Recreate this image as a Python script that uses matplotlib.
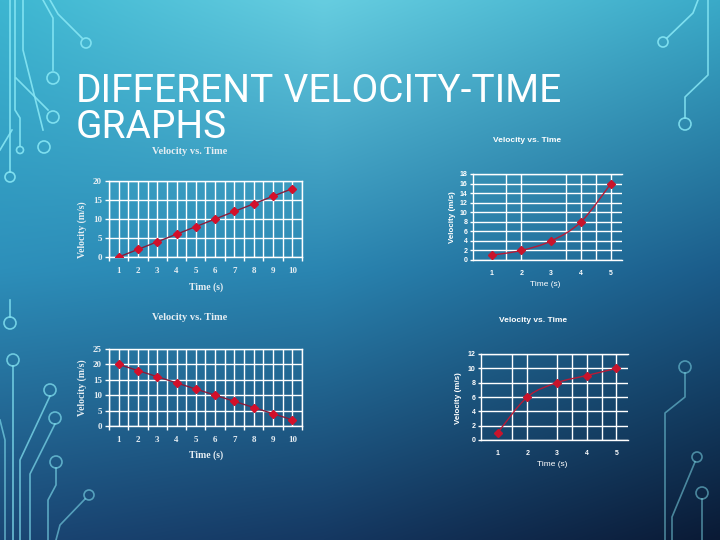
import numpy as np
import matplotlib
matplotlib.use('Agg')
import matplotlib.pyplot as plt
from matplotlib.colors import to_rgb
from matplotlib.path import Path
from matplotlib.patches import PathPatch, Circle

# chart data
t_ten = [1, 2, 3, 4, 5, 6, 7, 8, 9, 10]
v_up = [0, 2, 4, 6, 8, 10, 12, 14, 16, 18]
v_down = [20, 18, 16, 14, 12, 10, 8, 6, 4, 2]
t_five = [1, 2, 3, 4, 5]
v_accel = [1, 2, 4, 8, 16]
v_decel = [1, 6, 8, 9, 10]

title_words = ['DIFFERENT', ' VELOCITY-TIME', 'GRAPHS']
chart_title = 'Velocity vs. Time'
x_label = 'Time (s)'
y_label = 'Velocity (m/s)'

W, H = 720, 540
fig = plt.figure(figsize=(7.2, 5.4), dpi=100)

# background gradient
bg = fig.add_axes([0, 0, 1, 1])
bg_cols = [['#3db6d1', '#66cde0', '#3aaac8'],
           ['#2d8fba', '#2a85b1', '#1b5c8a'],
           ['#1a4674', '#153862', '#0a1a35']]
c = np.array([[to_rgb(x) for x in row] for row in bg_cols])
xs = np.linspace(0, 1, 360)
ys = np.linspace(0, 1, 270)
xnodes = [0, 0.45, 1]
ynodes = [0, 0.5, 1]
rows = np.stack([np.stack([np.interp(xs, xnodes, c[r, :, k]) for k in range(3)], -1) for r in range(3)])
img = np.empty((len(ys), len(xs), 3))
for k in range(3):
    for j in range(len(xs)):
        img[:, j, k] = np.interp(ys, ynodes, rows[:, j, k])
bg.imshow(img, extent=[0, W, H, 0], aspect='auto', interpolation='bilinear')
bg.set_xlim(0, W)
bg.set_ylim(H, 0)
bg.axis('off')

# circuit decorations (pixel coords)
wires = [
    ([(10, 0), (10, 172)], (10, 177), 5, 0.9),
    ([(15, 0), (15, 110), (20, 118), (20, 146)], (20, 150), 3.5, 0.9),
    ([(23, 0), (23, 50), (43, 130)], (44, 147), 6, 0.9),
    ([(43, 0), (53, 18), (53, 70)], (53, 78), 6, 0.9),
    ([(50, 0), (58, 14), (82, 38)], (86, 43), 5, 0.9),
    ([(16, 78), (48, 110)], (53, 117), 6, 0.9),
    ([(0, 150), (12, 130)], None, 0, 0.9),
    ([(10, 300), (10, 317)], (10, 323), 6, 0.8),
    ([(13, 366), (13, 540)], (13, 360), 6, 0.75),
    ([(50, 396), (20, 460), (20, 540)], (50, 390), 6, 0.7),
    ([(55, 424), (30, 474), (30, 540)], (55, 418), 6, 0.65),
    ([(56, 468), (56, 485), (48, 500), (48, 540)], (56, 462), 6, 0.6),
    ([(85, 499), (60, 525), (56, 540)], (89, 495), 5, 0.55),
    ([(0, 420), (5, 440), (5, 540)], None, 0, 0.6),
    ([(698, 0), (693, 13), (667, 38)], (663, 42), 5, 0.9),
    ([(708, 0), (708, 75), (685, 97), (685, 118)], (685, 124), 6, 0.85),
    ([(685, 373), (685, 397), (665, 413), (665, 540)], (685, 367), 6, 0.5),
    ([(695, 462), (672, 517), (672, 540)], (697, 457), 5, 0.5),
    ([(702, 499), (702, 540)], (702, 493), 6, 0.5),
]
for pts, ctr, r, a in wires:
    px = [p[0] for p in pts]
    py = [p[1] for p in pts]
    bg.plot(px, py, color='#86e6f4', lw=1.2, alpha=a)
    if ctr is not None:
        bg.add_patch(Circle(ctr, r, fill=False, ec='#86e6f4', lw=1.2, alpha=a))

# slide title: first word + last line as one block, rest of line 1 attached to its right
t_main = fig.text(76 / W, 1 - 146 / H, title_words[0] + '\n' + title_words[2], fontsize=28,
                  color='white', family='Roboto', va='bottom', ha='left', linespacing=0.95)
bg.annotate(title_words[1], xy=(1, 1), xycoords=t_main, fontsize=28, color='white',
            family='Roboto', va='top', ha='left')


def px_text(x, y, s, **kw):
    fig.text(x / W, 1 - y / H, s, ha='center', va='center', **kw)


def smooth_path(xv, yv):
    p = np.column_stack([xv, yv]).astype(float)
    ext = np.vstack([p[0], p, p[-1]])
    verts = [tuple(p[0])]
    codes = [Path.MOVETO]
    for i in range(len(p) - 1):
        p0, p1, p2, p3 = ext[i], ext[i + 1], ext[i + 2], ext[i + 3]
        c1 = p1 + (p2 - p0) / 6
        c2 = p2 - (p3 - p1) / 6
        verts += [tuple(c1), tuple(c2), tuple(p2)]
        codes += [Path.CURVE4] * 3
    return Path(verts, codes)


def style_axes(ax, family, fs, tcol, tick_len):
    ax.set_facecolor('none')
    for s in ax.spines.values():
        s.set_color('white')
        s.set_linewidth(1)
    ax.tick_params(colors='white', labelcolor=tcol, labelsize=fs, length=tick_len,
                   width=1, direction='out')
    ax.tick_params(axis='x', which='minor', length=tick_len, color='white', width=1)
    for lab in ax.get_xticklabels() + ax.get_yticklabels():
        lab.set_family(family)
        lab.set_fontweight('bold')


serif = 'Liberation Serif'
sans = 'Liberation Sans'

# left charts (linear)
left_specs = [([109, 257, 193, 76], v_up, 20, 152, 287, 230),
              ([109, 426, 193, 77], v_down, 25, 318, 455, 388)]
for box, vals, ymax, ty, xly, yly in left_specs:
    x0, yb, w, h = box
    ax = fig.add_axes([x0 / W, (H - yb) / H, w / W, h / H])
    ax.set_xlim(0.5, 10.5)
    ax.set_ylim(0, ymax)
    ax.set_xticks(t_ten)
    ax.set_xticks(np.arange(0.5, 11, 1), minor=True)
    ax.set_yticks(np.arange(0, ymax + 1, 5))
    ax.grid(True, which='both', axis='x', color='white', lw=1)
    ax.grid(True, which='major', axis='y', color='white', lw=1)
    ax.plot(t_ten, vals, color='#8a1c3a', lw=1, marker='D', ms=3.6,
            mfc='#d3102a', mec='#d3102a', zorder=3)
    style_axes(ax, serif, 6.5, '#e6eef3', 3)
    ax.tick_params(axis='x', which='major', length=0, pad=7)
    ax.tick_params(axis='y', pad=2)
    px_text(190, ty, chart_title, fontsize=7.5, color='#e6eef3', family=serif, fontweight='bold')
    px_text(206, xly, x_label, fontsize=7, color='#e6eef3', family=serif, fontweight='bold')
    px_text(82, yly, y_label, fontsize=7, color='#e6eef3', family=serif, fontweight='bold',
            rotation=90)

# right charts (curved)
right_specs = [([473, 260, 149, 86], v_accel, 18, 0.38, 5.37, [1.5, 2, 3.5, 4, 4.5, 5],
                (527, 140), (545, 284), (452, 217)),
               ([481, 440, 147, 86], v_decel, 12, 0.44, 5.39, [1.5, 2, 3, 3.5, 4, 4.5, 5],
                (533, 320), (552, 464), (458, 398))]
for box, vals, ymax, xl, xr, vgrid, tpos, xlpos, ylpos in right_specs:
    x0, yb, w, h = box
    ax = fig.add_axes([x0 / W, (H - yb) / H, w / W, h / H])
    ax.set_xlim(xl, xr)
    ax.set_ylim(0, ymax)
    ax.set_xticks(t_five)
    ax.set_yticks(np.arange(0, ymax + 1, 2))
    ax.grid(True, axis='y', color='white', lw=1)
    for g in vgrid:
        ax.axvline(g, color='white', lw=1)
    ax.spines['right'].set_visible(False)
    ax.add_patch(PathPatch(smooth_path(t_five, vals), fill=False, ec='#b81a36', lw=1, zorder=3))
    ax.plot(t_five, vals, ls='none', marker='D', ms=4, mfc='#c8142c', mec='#c8142c', zorder=4)
    style_axes(ax, sans, 5, 'white', 0)
    ax.tick_params(axis='x', pad=7)
    ax.tick_params(axis='y', length=2.5, pad=1.5)
    px_text(tpos[0], tpos[1], chart_title, fontsize=6, color='white', family=sans, fontweight='bold')
    px_text(xlpos[0], xlpos[1], x_label, fontsize=6, color='white', family=sans)
    px_text(ylpos[0], ylpos[1], y_label, fontsize=5.8, color='white', family=sans, fontweight='bold',
            rotation=90)

fig.savefig('out.png', dpi=100)
